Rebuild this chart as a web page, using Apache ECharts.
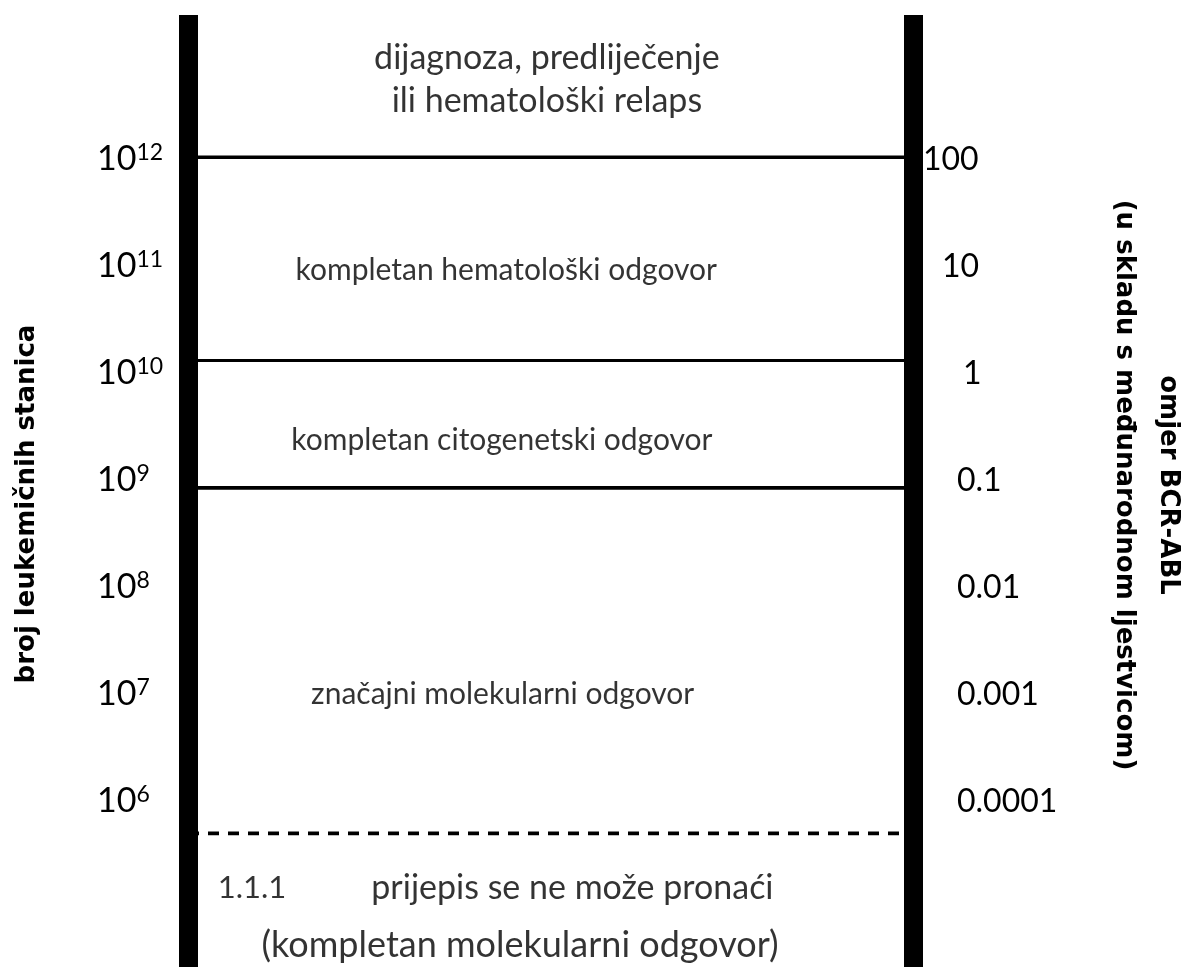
<!DOCTYPE html>
<html>
<head>
<meta charset="utf-8">
<script src="https://cdn.jsdelivr.net/npm/echarts@6/dist/echarts.min.js"></script>
<style>
  html, body { margin: 0; padding: 0; background: #fff; }
  #chart { width: 1196px; height: 967px; }
</style>
</head>
<body>
<div id="chart"></div>
<script>
// ticks are log10 of the leukaemic cell count
const leftExponents = [12, 11, 10, 9, 8, 7, 6]
const rightTickLabels = ['100', '10', '1', '0.1', '0.01', '0.001', '0.0001']

// response thresholds (log10 cell count)
const boundaryLevels = [12.02, 10.12, 8.93]
const detectionLimit = 5.70

const regionNames = [
  'dijagnoza, predliječenje\nili hematološki relaps',
  'kompletan hematološki odgovor',
  'kompletan citogenetski odgovor',
  'značajni molekularni odgovor',
  '(kompletan molekularni odgovor)'
]
const regionLevels = [12.75, 10.96, 9.37, 7.0, 4.65]
const undetectableNote = ['1.1.1', 'prijepis se ne može pronaći']
const undetectableLevel = 5.19

const leftTitle = 'broj leukemičnih stanica'
const rightTitle = ['omjer BCR-ABL', '(u skladu s međunarodnom ljestvicom)']

const FONT = 'Lato'
const TITLE_FONT = 'DejaVu Sans'
const chart = echarts.init(document.getElementById('chart'))

// horizontal centre (0..100 x scale) and font size of each region label
const regionX = [49.5, 43.9, 43.3, 43.4, 45.8]
const regionSize = [34, 30, 30, 30, 36]

const lineSeries = boundaryLevels.map((lv, i) => ({
  type: 'line',
  silent: true,
  symbol: 'none',
  data: [[0, lv], [100, lv]],
  lineStyle: { color: '#000', width: i === 1 ? 3 : 3.7 }
}))

lineSeries.push({
  type: 'line',
  silent: true,
  symbol: 'none',
  data: [[0, detectionLimit], [100, detectionLimit]],
  lineStyle: { color: '#000', width: 3.7, type: [11, 9] }
})

const labelSeries = {
  type: 'scatter',
  silent: true,
  symbolSize: 0,
  data: regionNames.map((n, i) => ({
    name: n,
    value: [regionX[i], regionLevels[i]],
    label: { fontSize: regionSize[i], lineHeight: 43 }
  })).concat([{
    name: '{a|' + undetectableNote[0] + '}{b|' + undetectableNote[1] + '}',
    value: [4.1, undetectableLevel],
    label: { align: 'left' }
  }]),
  label: {
    show: true,
    position: 'inside',
    formatter: (p) => p.data.name,
    color: '#000',
    fontFamily: FONT,
    fontSize: 30,
    lineHeight: 43,
    rich: {
      a: { fontFamily: FONT, fontSize: 31, color: '#000', lineHeight: 40, padding: [0, 85, 0, 0] },
      b: { fontFamily: FONT, fontSize: 34, color: '#000', lineHeight: 40 }
    }
  }
}

const axisBase = {
  type: 'value',
  min: 4.45,
  max: 13.35,
  splitLine: { show: false },
  axisTick: { show: false },
  axisLine: { show: true, lineStyle: { color: '#000', width: 19, cap: 'butt' } }
}

chart.setOption({
  animation: false,
  backgroundColor: '#fff',
  grid: { left: 188, right: 283, top: 15, bottom: 0 },
  xAxis: { type: 'value', min: 0, max: 100, show: false },
  yAxis: [
    Object.assign({}, axisBase, {
      position: 'left',
      axisLabel: {
        customValues: leftExponents,
        align: 'left',
        margin: 91,
        formatter: (v) => '{b|10}{s|' + Math.round(v) + '}',
        rich: {
          b: { fontFamily: FONT, fontSize: 34, color: '#000', lineHeight: 37 },
          s: { fontFamily: FONT, fontSize: 23, color: '#000', verticalAlign: 'top', lineHeight: 22 }
        }
      }
    }),
    Object.assign({}, axisBase, {
      position: 'right',
      axisLabel: {
        customValues: leftExponents,
        align: 'left',
        margin: 10,
        formatter: (v) => {
          const i = 12 - Math.round(v)
          const style = i === 0 ? 'p0' : i === 1 ? 'p1' : i === 2 ? 'p2' : 'p3'
          return '{' + style + '|' + rightTickLabels[i] + '}'
        },
        rich: {
          p0: { fontFamily: FONT, fontSize: 32, color: '#000' },
          p1: { fontFamily: FONT, fontSize: 32, color: '#000', padding: [0, 0, 0, 19] },
          p2: { fontFamily: FONT, fontSize: 32, color: '#000', padding: [0, 0, 0, 40] },
          p3: { fontFamily: FONT, fontSize: 32, color: '#000', padding: [0, 0, 0, 34] }
        }
      }
    })
  ],
  graphic: [
    {
      type: 'text',
      x: 27,
      y: 504,
      rotation: Math.PI / 2,
      style: {
        text: leftTitle,
        fontFamily: TITLE_FONT,
        fontWeight: 'bold',
        fontSize: 26,
        fill: '#000',
        align: 'center',
        verticalAlign: 'middle'
      }
    },
    {
      type: 'text',
      x: 1146,
      y: 485,
      rotation: -Math.PI / 2,
      style: {
        text: rightTitle.join('\n'),
        fontFamily: TITLE_FONT,
        fontWeight: 'bold',
        fontSize: 26,
        lineHeight: 44,
        fill: '#000',
        align: 'center',
        verticalAlign: 'middle'
      }
    }
  ],
  series: lineSeries.concat([labelSeries])
})
</script>
</body>
</html>
